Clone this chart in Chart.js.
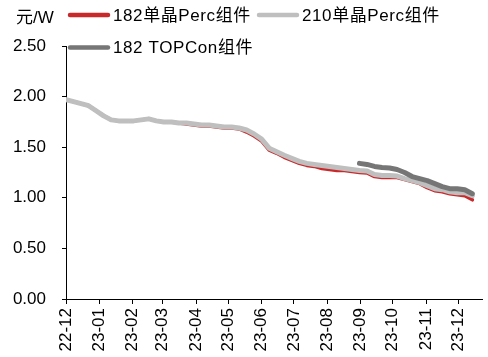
<!DOCTYPE html>
<html>
<head>
<meta charset="utf-8">
<script src="https://cdn.jsdelivr.net/npm/chart.js@4.4.0/dist/chart.umd.min.js"></script>
<style>
html,body{margin:0;padding:0;background:#fff;}
canvas{display:block;}
</style>
</head>
<body>
<canvas id="c" width="488" height="357"></canvas>
<script>
const dates = [
  '2022-12-01','2022-12-08','2022-12-15','2022-12-22','2022-12-29',
  '2023-01-05','2023-01-12','2023-01-19','2023-01-26',
  '2023-02-02','2023-02-09','2023-02-16','2023-02-23',
  '2023-03-02','2023-03-09','2023-03-16','2023-03-23','2023-03-30',
  '2023-04-06','2023-04-13','2023-04-20','2023-04-27',
  '2023-05-04','2023-05-11','2023-05-18','2023-05-25',
  '2023-06-01','2023-06-08','2023-06-15','2023-06-22','2023-06-29',
  '2023-07-06','2023-07-13','2023-07-20','2023-07-27',
  '2023-08-03','2023-08-10','2023-08-17','2023-08-24','2023-08-31',
  '2023-09-07','2023-09-14','2023-09-21','2023-09-28',
  '2023-10-05','2023-10-12','2023-10-19','2023-10-26',
  '2023-11-02','2023-11-09','2023-11-16','2023-11-23','2023-11-30',
  '2023-12-07','2023-12-14'
];
const perc182 = [
  1.97,1.95,1.93,1.91,1.86,
  1.81,1.77,1.76,1.76,
  1.76,1.77,1.78,1.76,
  1.75,1.75,1.74,1.73,1.72,
  1.71,1.71,1.70,1.69,
  1.69,1.68,1.65,1.61,
  1.56,1.47,1.44,1.40,1.37,
  1.34,1.32,1.31,1.29,
  1.28,1.27,1.27,1.26,1.25,
  1.245,1.21,1.20,1.20,
  1.20,1.18,1.16,1.14,
  1.10,1.07,1.06,1.04,1.03,
  1.02,0.98
];
const perc210 = [
  1.97,1.95,1.93,1.91,1.86,
  1.81,1.77,1.76,1.76,
  1.76,1.77,1.78,1.76,
  1.75,1.75,1.74,1.74,1.73,
  1.72,1.72,1.71,1.70,
  1.70,1.69,1.67,1.63,
  1.58,1.49,1.455,1.42,1.39,
  1.36,1.34,1.33,1.32,
  1.31,1.30,1.29,1.28,1.27,
  1.265,1.23,1.22,1.22,
  1.215,1.19,1.17,1.15,
  1.12,1.09,1.08,1.06,1.05,
  1.05,1.02
];
const topcon182 = [
  null,null,null,null,null,
  null,null,null,null,
  null,null,null,null,
  null,null,null,null,null,
  null,null,null,null,
  null,null,null,null,
  null,null,null,null,null,
  null,null,null,null,
  null,null,null,null,1.34,
  1.33,1.31,1.30,1.295,
  1.28,1.25,1.21,1.19,
  1.17,1.14,1.11,1.09,1.09,
  1.08,1.04
];
const monthLabels = ['22-12','23-01','23-02','23-03','23-04','23-05','23-06','23-07','23-08','23-09','23-10','23-11','23-12'];
const yTicks = [0, 0.5, 1.0, 1.5, 2.0, 2.5];
const seriesNames = ['182单晶Perc组件','210单晶Perc组件','182 TOPCon组件'];
const unitLabel = '元/W';

const DAY = 86400000;
const base = Date.UTC(2022, 11, 1);
function dayOf(s){ const p = s.split('-').map(Number); return (Date.UTC(p[0], p[1]-1, p[2]) - base)/DAY; }
function monthDay(lbl){ const p = lbl.split('-').map(Number); return (Date.UTC(2000+p[0], p[1]-1, 1) - base)/DAY; }
const monthTicks = monthLabels.map(monthDay);
const toPts = arr => arr.map((v,i)=>({x: dayOf(dates[i]), y: v}));

const FONT = "'Liberation Sans', Arial, 'Noto Sans CJK SC', sans-serif";
const colors = ['#C9292B', '#BFBFBF', '#767676'];

const legendPlugin = {
  id: 'customLegend',
  afterDraw(chart){
    const ctx = chart.ctx;
    ctx.save();
    ctx.fillStyle = '#000';
    ctx.font = '17px ' + FONT;
    ctx.textBaseline = 'middle';
    ctx.textAlign = 'left';
    ctx.fillText(unitLabel, 16, 18);
    try { ctx.letterSpacing = '0.6px'; } catch(e) {}
    const items = [
      {x: 68, y: 15, i: 0},
      {x: 257, y: 15, i: 1},
      {x: 68, y: 47.5, i: 2}
    ];
    items.forEach(it=>{
      ctx.strokeStyle = colors[it.i];
      ctx.lineWidth = 4.5;
      ctx.lineCap = 'round';
      ctx.beginPath();
      ctx.moveTo(it.x+2, it.y);
      ctx.lineTo(it.x+40, it.y);
      ctx.stroke();
      ctx.fillStyle = '#000';
      ctx.fillText(seriesNames[it.i], it.x+45, it.y+1);
    });
    ctx.restore();
  }
};

new Chart(document.getElementById('c'), {
  type: 'line',
  data: {
    datasets: [
      {label: seriesNames[0], data: toPts(perc182), borderColor: colors[0], borderWidth: 3.5, order: 3},
      {label: seriesNames[1], data: toPts(perc210), borderColor: colors[1], borderWidth: 5, order: 2},
      {label: seriesNames[2], data: toPts(topcon182), borderColor: colors[2], borderWidth: 5, order: 1}
    ]
  },
  options: {
    responsive: false,
    animation: false,
    devicePixelRatio: 1,
    layout: {padding: {top: 46, right: 6, left: 0, bottom: 0}},
    elements: {
      point: {radius: 0},
      line: {tension: 0, borderCapStyle: 'round', borderJoinStyle: 'round', fill: false}
    },
    plugins: {legend: {display: false}, tooltip: {enabled: false}},
    scales: {
      x: {
        type: 'linear',
        min: 0,
        max: 387,
        afterBuildTicks: s => { s.ticks = monthTicks.map(v=>({value: v})); },
        afterFit: s => { s.height = 58; },
        ticks: {
          autoSkip: false,
          minRotation: 90,
          maxRotation: 90,
          padding: 4,
          color: '#000',
          font: {size: 17, family: FONT},
          callback: (v, i) => monthLabels[i]
        },
        grid: {display: true, drawOnChartArea: false, drawTicks: true, tickLength: 5, color: '#000', lineWidth: 1},
        border: {display: true, color: '#000', width: 1}
      },
      y: {
        min: 0,
        max: 2.5,
        afterBuildTicks: s => { s.ticks = yTicks.map(v=>({value: v})); },
        afterFit: s => { s.width = 66; },
        ticks: {
          padding: 16,
          color: '#000',
          font: {size: 17, family: FONT},
          callback: v => Number(v).toFixed(2)
        },
        grid: {display: true, drawOnChartArea: false, drawTicks: true, tickLength: 4, color: '#000', lineWidth: 1},
        border: {display: true, color: '#000', width: 1}
      }
    }
  },
  plugins: [legendPlugin]
});
</script>
</body>
</html>
